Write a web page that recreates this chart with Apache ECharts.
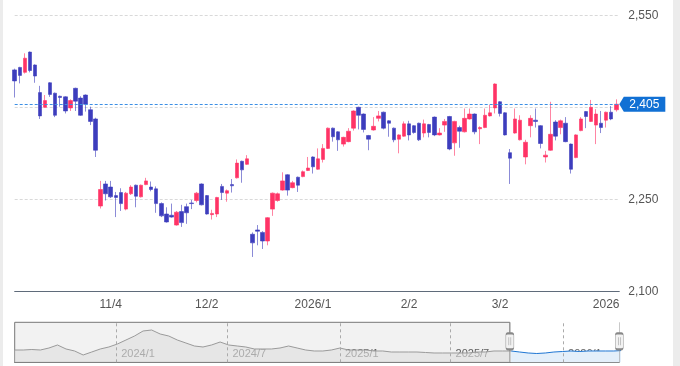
<!DOCTYPE html>
<html><head><meta charset="utf-8">
<script src="https://cdn.jsdelivr.net/npm/echarts@6/dist/echarts.min.js"></script>
<style>
html,body{margin:0;padding:0;background:#fff;}
#chart{position:absolute;left:0;top:0;width:680px;height:366px;}
.band{position:absolute;top:0;height:366px;background:#ececec;}
</style></head><body>
<div id="chart"></div>
<div class="band" style="left:0;width:3px"></div>
<div class="band" style="left:673px;width:7px"></div>
<script>
const dates = [
'2025-10-06','2025-10-07','2025-10-08','2025-10-09','2025-10-10','2025-10-14','2025-10-15','2025-10-16','2025-10-17','2025-10-20','2025-10-21','2025-10-22','2025-10-23','2025-10-24','2025-10-27','2025-10-28','2025-10-29','2025-10-30','2025-10-31',
'2025-11-04','2025-11-05','2025-11-06','2025-11-07','2025-11-10','2025-11-11','2025-11-12','2025-11-13','2025-11-14','2025-11-17','2025-11-18','2025-11-19','2025-11-20','2025-11-21','2025-11-25','2025-11-26','2025-11-27','2025-11-28',
'2025-12-01','2025-12-02','2025-12-03','2025-12-04','2025-12-05','2025-12-08','2025-12-09','2025-12-10','2025-12-11','2025-12-12','2025-12-15','2025-12-16','2025-12-17','2025-12-18','2025-12-19','2025-12-22','2025-12-23','2025-12-24','2025-12-25','2025-12-26','2025-12-29','2025-12-30',
'2026-01-05','2026-01-06','2026-01-07','2026-01-08','2026-01-09','2026-01-13','2026-01-14','2026-01-15','2026-01-16','2026-01-19','2026-01-20','2026-01-21','2026-01-22','2026-01-23','2026-01-26','2026-01-27','2026-01-28','2026-01-29','2026-01-30',
'2026-02-02','2026-02-03','2026-02-04','2026-02-05','2026-02-06','2026-02-09','2026-02-10','2026-02-12','2026-02-13','2026-02-16','2026-02-17','2026-02-18','2026-02-19','2026-02-20','2026-02-24','2026-02-25','2026-02-26','2026-02-27',
'2026-03-02','2026-03-03','2026-03-04','2026-03-05','2026-03-06','2026-03-09','2026-03-10','2026-03-11','2026-03-12','2026-03-13','2026-03-16','2026-03-17','2026-03-18','2026-03-19','2026-03-23','2026-03-24','2026-03-25','2026-03-26','2026-03-27','2026-03-30','2026-03-31',
'2026-04-01','2026-04-02','2026-04-03'];

const opens = [2461,2465,2457,2490,2469,2424,2400,2440,2423,2418,
2417,2399,2431,2415,2420,2396,2381,2239,2275,2270,
2256,2261,2234,2259,2273,2254,2274,2270,2267,2243,
2226,2224,2208,2230,2238,2244,2248,2275,2256,2225,
2226,2271,2260,2274,2285,2312,2307,2193,2200,2196,
2182,2234,2248,2265,2290,2269,2286,2287,2297,2319,
2299,2315,2333,2366,2360,2340,2344,2366,2400,2389,
2354,2363,2382,2392,2378,2366,2348,2353,2373,2370,
2374,2358,2372,2384,2355,2371,2385,2342,2367,2360,
2381,2389,2365,2367,2386,2399,2409,2391,2326,2358,
2347,2319,2370,2379,2370,2319,2330,2376,2367,2374,
2340,2318,2362,2393,2377,2371,2374,2379,2392,2396];

const closes = [2443,2452,2480,2460,2451,2386,2411,2421,2387,2416,
2394,2411,2410,2387,2405,2377,2330,2266,2259,2254,
2253,2243,2260,2270,2255,2273,2280,2266,2243,2223,
2213,2221,2229,2212,2228,2243,2260,2241,2226,2227,
2253,2261,2264,2272,2309,2298,2316,2179,2198,2182,
2220,2260,2259,2280,2265,2277,2273,2295,2301,2303,
2316,2333,2366,2352,2347,2351,2361,2394,2387,2364,
2348,2369,2386,2366,2374,2347,2355,2373,2355,2359,
2347,2373,2359,2355,2358,2377,2332,2377,2361,2382,
2389,2360,2367,2387,2391,2438,2390,2355,2317,2381,
2379,2343,2382,2377,2341,2322,2356,2353,2378,2344,
2299,2355,2381,2385,2400,2389,2367,2392,2381,2405];

const lows = [2416,2439,2455,2457,2440,2381,2399,2417,2384,2401,
2390,2394,2394,2386,2393,2371,2319,2235,2248,2252,
2221,2231,2232,2257,2237,2253,2273,2263,2228,2221,
2212,2220,2207,2205,2210,2234,2245,2240,2225,2217,
2221,2249,2246,2261,2284,2277,2306,2156,2175,2169,
2175,2223,2246,2264,2256,2268,2262,2286,2296,2292,
2298,2310,2332,2344,2329,2336,2343,2362,2364,2359,
2330,2362,2377,2364,2352,2343,2325,2352,2346,2357,
2345,2351,2351,2353,2354,2360,2330,2321,2334,2359,
2380,2356,2340,2366,2385,2390,2385,2354,2275,2357,
2346,2307,2351,2367,2333,2310,2329,2346,2356,2343,
2292,2317,2361,2366,2376,2340,2358,2367,2379,2393];

const highs = [2463,2466,2488,2491,2470,2435,2420,2441,2424,2419,
2418,2413,2432,2418,2421,2401,2383,2280,2280,2280,
2262,2268,2262,2273,2274,2274,2285,2279,2271,2245,
2237,2243,2231,2241,2243,2249,2262,2276,2257,2233,
2254,2275,2266,2283,2315,2313,2322,2196,2208,2198,
2221,2261,2261,2294,2291,2280,2287,2297,2319,2320,
2333,2340,2367,2367,2361,2352,2366,2395,2401,2390,
2355,2384,2394,2393,2379,2367,2356,2377,2378,2371,
2375,2380,2373,2385,2366,2381,2386,2378,2370,2398,
2398,2390,2369,2398,2404,2439,2410,2392,2332,2398,
2387,2347,2387,2398,2371,2329,2409,2379,2380,2384,
2341,2356,2384,2394,2412,2397,2394,2393,2402,2413];

const xTickDates = ['2025-11-04','2025-12-02','2026-01-05','2026-02-02','2026-03-02','2026-04-01'];
const xTickTexts = ['11/4','12/2','2026/1','2/2','3/2','2026'];
const yHiddenLabel = 2400;

const navStart = '2023-07-19';
const navStepDays = 14;
const navValues = [2476,2476,2520,2476,2651,2914,2564,2389,2039,2301,2564,2739,3001,3351,3701,4139,4226,3876,3701,3351,3089,2826,2739,2914,3176,2914,2826,2739,2564,2564,2564,2651,2826,2651,2476,2389,2389,2476,2651,2476,2476,2476,2389,2389,2301,2301,2301,2301,2258,2214,2214,2214,2214,2214,2301,2301,2389,2389,2389,2301,2214,2170,2214,2301,2345,2389,2345,2389,2389,2389,2389,2433];
const navTickDates = ['2024-01-01','2024-07-01','2025-01-01','2025-07-01','2026-01-01'];
const navTickTexts = ['2024/1','2024/7','2025/1','2025/7','2026/1'];

const RED = '#ff3366', BLUE = '#3d3dbd';
const RED_W = 'rgba(255,51,102,0.6)', BLUE_W = 'rgba(61,61,189,0.6)';
const FONT = 'Liberation Sans, Arial, sans-serif';
const DAY = 86400000;
const dayOf = s => Math.round((Date.parse(s + 'T00:00:00Z') - Date.parse(navStart + 'T00:00:00Z')) / DAY);

const xMax = dates.length - 1 + 0.6;
const tickIdx = xTickDates.map(d => dates.indexOf(d));
const lastClose = closes[closes.length - 1];

const navMaxD = dayOf(dates[dates.length - 1]);
const selD = dayOf(dates[0]);
const navTickD = navTickDates.map(dayOf);
const navData = navValues.map((v, i) => [i * navStepDays, v]);
const splitAt = Math.ceil(selD / navStepDays);
const navOut = navData.slice(0, splitAt + 1);
const navIn = navData.slice(splitAt);
const navMin = 1400, navMax = 4900, navMid = (navMin + navMax) / 2;
const handlePath = 'path://M4,0V11M2,11H6Q8,11,8,13V25Q8,27,6,27H2Q0,27,0,25V13Q0,11,2,11ZM3,15V23M5,15V23M4,27V40';

const chart = echarts.init(document.getElementById('chart'), null, {renderer: 'canvas'});
chart.setOption({
  animation: false,
  backgroundColor: '#fff',
  textStyle: {fontFamily: FONT},
  grid: [
    {left: 14.7, right: 60.7, top: 15.3, bottom: 74.7},
    {left: 14.7, right: 60.7, top: 322.3, height: 40}
  ],
  xAxis: [
    {
      type: 'value', gridIndex: 0, min: 0, max: xMax,
      axisLine: {show: true, lineStyle: {color: '#5f6b7a', width: 1}},
      axisTick: {show: false},
      splitLine: {show: false},
      axisLabel: {
        customValues: tickIdx, color: '#555', fontSize: 12, margin: 7, fontFamily: FONT,
        formatter: v => { const k = tickIdx.indexOf(Math.round(v)); return k >= 0 ? xTickTexts[k] : ''; }
      }
    },
    {
      type: 'value', gridIndex: 1, min: 0, max: navMaxD,
      axisLine: {show: true, lineStyle: {color: '#777', width: 1}},
      axisTick: {show: false},
      splitLine: {show: false},
      axisLabel: {
        inside: true, customValues: navTickD, color: '#666', fontSize: 11, margin: 3,
        align: 'left', padding: [0, 0, 0, 5], fontFamily: FONT,
        formatter: v => { const k = navTickD.indexOf(Math.round(v)); return k >= 0 ? navTickTexts[k] : ''; }
      }
    }
  ],
  yAxis: [
    {
      type: 'value', gridIndex: 0, position: 'right', min: 2100, max: 2550, interval: 150,
      axisLine: {show: false}, axisTick: {show: false},
      splitLine: {show: true, lineStyle: {color: '#d9d9d9', type: [3, 2], width: 1}},
      axisLabel: {
        color: '#555', fontSize: 12, margin: 9, fontFamily: FONT,
        formatter: v => v === yHiddenLabel ? '' : v.toLocaleString('en-US')
      }
    },
    {
      type: 'value', gridIndex: 1, min: navMin, max: navMax, show: false,
      splitLine: {show: false}
    }
  ],
  series: [
    {
      type: 'candlestick', xAxisIndex: 0, yAxisIndex: 0,
      barWidth: 4,
      data: dates.map((d, i) => [i, opens[i], closes[i], lows[i], highs[i]]),
      itemStyle: {color: RED, color0: BLUE, borderColor: RED_W, borderColor0: BLUE_W, borderWidth: 1},
      markLine: {
        silent: true, symbol: ['none', 'none'],
        label: {show: false},
        lineStyle: {color: '#3b8fe5', type: [3, 2], width: 1},
        data: [{yAxis: lastClose}]
      },
      markPoint: {
        silent: true,
        symbol: 'path://M0,7.5L4.5,0H46V15H4.5Z',
        symbolSize: [46, 15],
        symbolOffset: ['50%', 0],
        itemStyle: {color: '#1170d4'},
        label: {show: true, position: 'inside', color: '#fff', fontSize: 12, fontFamily: FONT, offset: [2, 0],
          formatter: () => lastClose.toLocaleString('en-US')},
        data: [{coord: [xMax, lastClose]}]
      }
    },
    {
      type: 'line', xAxisIndex: 1, yAxisIndex: 1,
      data: navOut, showSymbol: false, symbol: 'none',
      lineStyle: {width: 1, color: '#9a9a9a'},
      areaStyle: {color: '#dedede', opacity: 0.6},
      markArea: {
        silent: true,
        itemStyle: {color: 'rgba(0,0,0,0.05)', borderColor: '#777', borderWidth: 1},
        data: [[{xAxis: 0}, {xAxis: selD}]]
      },
      markLine: {
        silent: true, symbol: ['none', 'none'], label: {show: false},
        lineStyle: {color: '#aaa', type: [3, 3], width: 1},
        data: navTickD.map(d => ({xAxis: d}))
      }
    },
    {
      type: 'line', xAxisIndex: 1, yAxisIndex: 1,
      data: navIn, showSymbol: false, symbol: 'none',
      lineStyle: {width: 1, color: '#1f76d3'},
      areaStyle: {color: '#e4effa', opacity: 1},
      markPoint: {
        silent: true,
        symbol: handlePath, symbolSize: [8, 40],
        itemStyle: {color: '#f2f2f2', borderColor: '#888', borderWidth: 1},
        label: {show: false},
        data: [{coord: [selD, navMid]}, {coord: [navMaxD, navMid]}]
      }
    }
  ]
});
</script>
</body></html>
